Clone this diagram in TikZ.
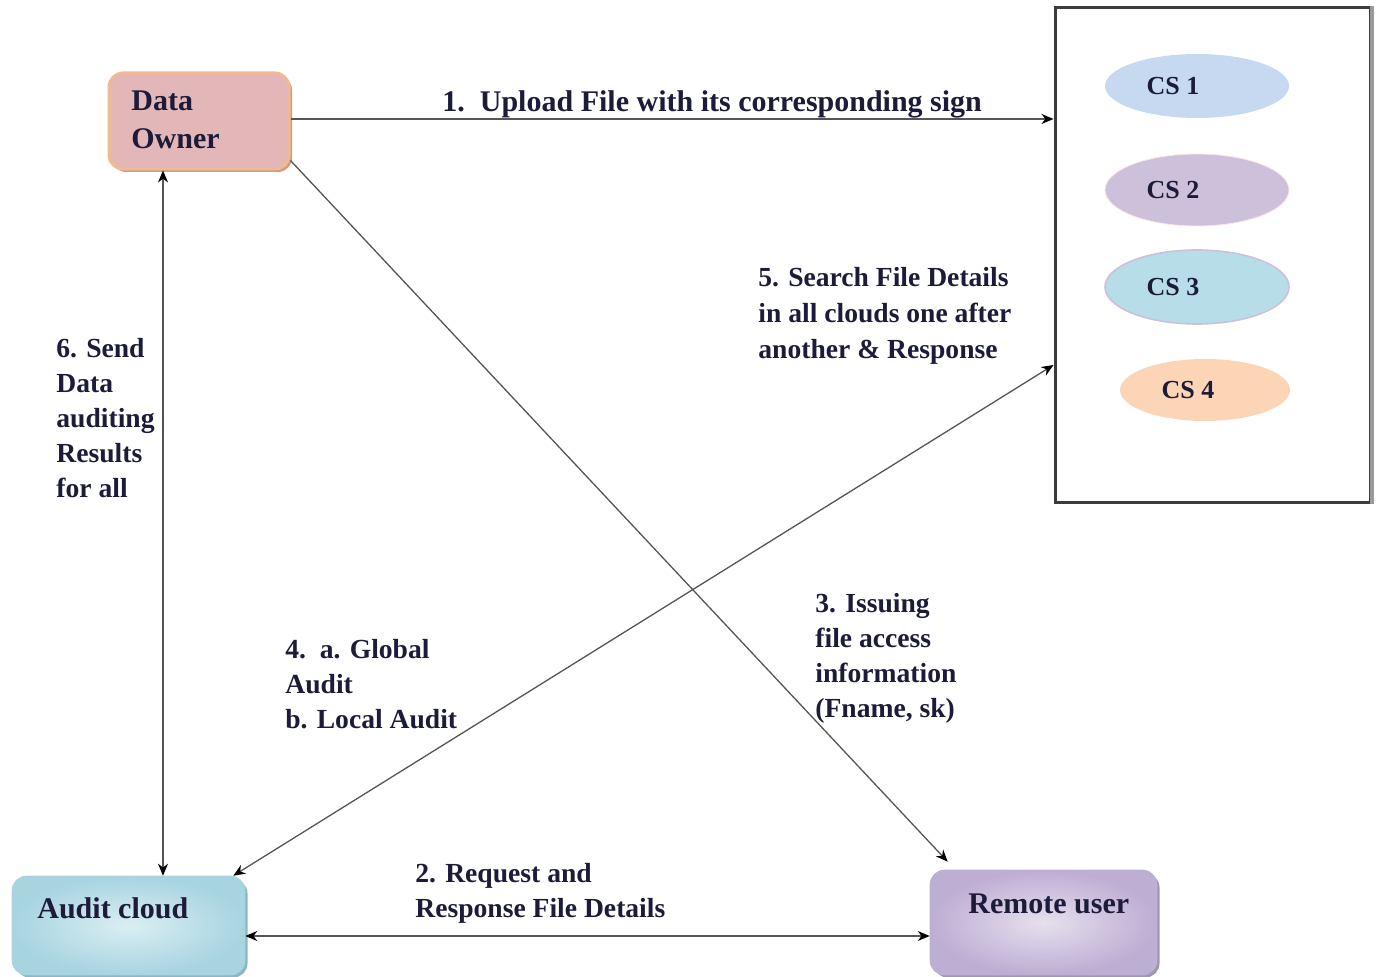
\documentclass[tikz,border=0pt]{standalone}
\usepackage{fontspec}
\setmainfont{Liberation Serif}
\usetikzlibrary{arrows.meta,shadows,calc,shapes.geometric}
\definecolor{txt}{HTML}{1C1C3A}
\definecolor{linec}{HTML}{555555}
\definecolor{ownerf}{HTML}{E3B6B8}
\definecolor{ownerb}{HTML}{F2BA92}
\definecolor{ownersh}{HTML}{C9A08A}
\definecolor{auditin}{HTML}{DAEEF3}
\definecolor{auditout}{HTML}{A8D4E0}
\definecolor{auditsh}{HTML}{8FB6C2}
\definecolor{remin}{HTML}{E6E0EE}
\definecolor{remout}{HTML}{BDAED3}
\definecolor{remsh}{HTML}{9F9AAA}
\definecolor{cloudb}{HTML}{3C3C3C}
\definecolor{cloudr}{HTML}{9A9A9A}
\definecolor{csA}{HTML}{C6D9F0}
\definecolor{csB}{HTML}{CCC0DA}
\definecolor{csC}{HTML}{B7DDE8}
\definecolor{csD}{HTML}{FBD5B5}
\begin{document}
\begin{tikzpicture}[x=0.5pt,y=-0.5pt,
  boxtext/.style={font=\fontsize{15}{19}\selectfont\bfseries, text=txt, align=left, anchor=base west, inner sep=0pt},
  lbl/.style={font=\fontsize{13.8}{17.5}\selectfont\bfseries, text=txt, align=left, anchor=base west, inner sep=0pt},
  cstext/.style={font=\fontsize{13}{15}\selectfont\bfseries, text=txt},
  conn/.style={draw=linec, line width=0.65pt, -{Stealth[length=6pt,width=5pt,black]}},
  bconn/.style={draw=linec, line width=0.65pt, {Stealth[length=6pt,width=5pt,black]}-{Stealth[length=6pt,width=5pt,black]}},
  cs/.style={ellipse, inner sep=0pt}
]
\useasboundingbox (0,0) rectangle (1376,977);

% boxes
\node[rounded corners=7pt, draw=ownerb, line width=1.5pt, fill=ownerf,
      drop shadow={shadow xshift=1.5pt, shadow yshift=-1.5pt, fill=ownersh, opacity=1},
      minimum width=90pt, minimum height=48pt, inner sep=0pt] (owner) at (199,121) {};
\node[boxtext] (ownert) at (131,149) {Data\\Owner};

\node[rounded corners=7pt, draw=auditout, line width=0.8pt, inner color=auditin, outer color=auditout,
      drop shadow={shadow xshift=1.5pt, shadow yshift=-1.5pt, fill=auditsh, opacity=1},
      minimum width=116pt, minimum height=49pt, inner sep=0pt] (audit) at (128.5,925.5) {};
\node[boxtext] (auditt) at (37,918) {Audit cloud};

\node[rounded corners=7pt, draw=remout, line width=0.8pt, inner color=remin, outer color=remout,
      drop shadow={shadow xshift=1.5pt, shadow yshift=-1.5pt, fill=remsh, opacity=1},
      minimum width=113pt, minimum height=52pt, inner sep=0pt] (remote) at (1043.5,922.5) {};
\node[boxtext] (remotet) at (968,913) {Remote user};

% cloud servers box
\node[draw=cloudb, line width=1.5pt, minimum width=157.5pt, minimum height=247.5pt, inner sep=0pt] (clouds) at (1212.5,255.5) {};
\draw[draw=cloudr, line width=2pt] (clouds.north east) -- (clouds.south east);

\node[cs, fill=csA, minimum width=92pt, minimum height=32pt] (cs1) at (1197,86) {};
\node[cstext] (cs1t) at (1173,86) {CS 1};
\node[cs, fill=csB, draw=pink!40, minimum width=92pt, minimum height=36pt] (cs2) at (1197,190) {};
\node[cstext] (cs2t) at (1173,190) {CS 2};
\node[cs, fill=csC, draw=csB, line width=0.8pt, minimum width=92pt, minimum height=37pt] (cs3) at (1197,287) {};
\node[cstext] (cs3t) at (1173,287) {CS 3};
\node[cs, fill=csD, minimum width=85pt, minimum height=31pt] (cs4) at (1205,390) {};
\node[cstext] (cs4t) at (1188,390) {CS 4};

% connector end points
\coordinate (o1) at ($(owner.east)+(0,-2)$);
\coordinate (o3) at ($(owner.south east)+(0,-10)$);
\coordinate (r3) at ($(remote.north west)+(18,-8)$);
\coordinate (a2) at (audit.east |- 0,936);
\coordinate (r2) at (remote.west |- 0,936);
\coordinate (a4) at ($(audit.north east)+(-12,0)$);
\coordinate (c5) at (clouds.west |- 0,365);
\coordinate (o6) at (163,0 |- owner.south);
\coordinate (a6) at (163,0 |- audit.north);

% connectors
\draw[conn] (o1) -- (clouds.west |- o1);
\draw[bconn] (a2) -- (r2);
\draw[conn] (o3) -- (r3);
\draw[bconn] (a4) -- (c5);
\draw[bconn] (o6) -- (a6);

% labels
\node[lbl, font=\fontsize{15}{19}\selectfont\bfseries] (l1) at (442,112) {1.\ \ Upload File with its corresponding sign};
\node[lbl] (l2) at (415,917) {2. Request and\\Response File Details};
\node[lbl] (l3) at (815,718) {3. Issuing\\file access\\information\\(Fname, sk)};
\node[lbl] (l4) at (285,729) {4.\ \ a. Global\\Audit\\b. Local Audit};
\node[lbl, font=\fontsize{13.8}{18}\selectfont\bfseries] (l5) at (758,359) {5. Search File Details\\in all clouds one after\\another \& Response};
\node[lbl] (l6) at (56,498) {6. Send\\Data\\auditing\\Results\\for all};
\end{tikzpicture}
\end{document}
